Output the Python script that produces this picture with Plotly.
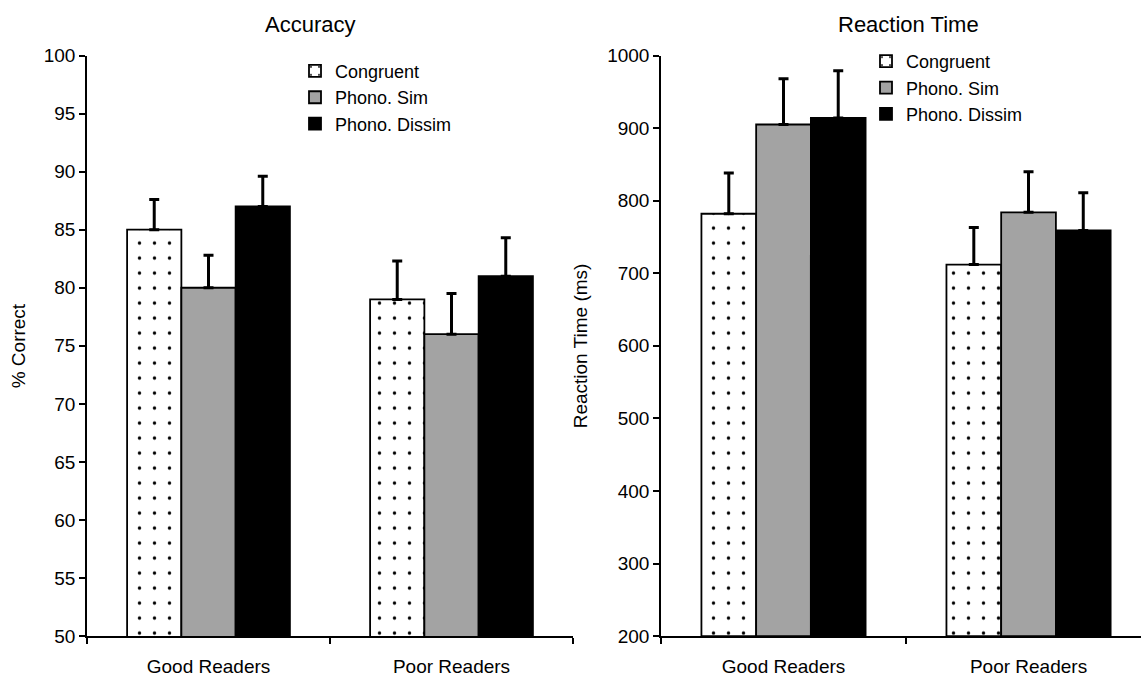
import plotly.graph_objects as go

groups = ["Good Readers", "Poor Readers"]
conditions = ["Congruent", "Phono. Sim", "Phono. Dissim"]

acc_means = {"Congruent": [85, 79], "Phono. Sim": [80, 76], "Phono. Dissim": [87, 81]}
acc_err = {"Congruent": [2.6, 3.3], "Phono. Sim": [2.8, 3.5], "Phono. Dissim": [2.6, 3.3]}

rt_means = {"Congruent": [782, 712], "Phono. Sim": [905, 784], "Phono. Dissim": [914, 759]}
rt_err = {"Congruent": [56, 51], "Phono. Sim": [63, 56], "Phono. Dissim": [65, 52]}

acc_ticks = [50, 55, 60, 65, 70, 75, 80, 85, 90, 95, 100]
rt_ticks = [200, 300, 400, 500, 600, 700, 800, 900, 1000]

W, H = 1141, 682
FONT = "Liberation Sans, Arial, sans-serif"

def marker_for(cond):
    line = dict(color="black", width=1.8)
    if cond == "Congruent":
        return dict(color="white", line=line,
                    pattern=dict(shape=".", fgcolor="black", bgcolor="white",
                                 size=15, solidity=0.04, fillmode="replace",
                                 fgopacity=1))
    if cond == "Phono. Sim":
        return dict(color="#a3a3a3", line=line)
    return dict(color="black", line=line)

fig = go.Figure()
for cond in conditions:
    fig.add_trace(go.Bar(
        x=groups, y=acc_means[cond], name=cond, marker=marker_for(cond),
        error_y=dict(type="data", array=acc_err[cond], arrayminus=[0, 0],
                     symmetric=False, color="black", thickness=3, width=5),
        xaxis="x", yaxis="y", legend="legend"))
for cond in conditions:
    fig.add_trace(go.Bar(
        x=groups, y=[v - 200 for v in rt_means[cond]], base=200, name=cond,
        marker=marker_for(cond),
        error_y=dict(type="data", array=rt_err[cond], arrayminus=[0, 0],
                     symmetric=False, color="black", thickness=3, width=5),
        xaxis="x2", yaxis="y2", legend="legend2"))

ydom = [1 - 646 / H, 1 - 47 / H]
axis_common = dict(showline=True, linecolor="black", linewidth=1.5,
                   ticks="outside", ticklen=6, tickcolor="black", tickwidth=1.5,
                   showgrid=False, zeroline=False,
                   tickfont=dict(family=FONT, size=19, color="black"))
xaxis_extra = dict(ticklabelstandoff=12)

fig.update_layout(
    width=W, height=H, margin=dict(l=0, r=0, t=0, b=0),
    paper_bgcolor="white", plot_bgcolor="white",
    barmode="group", bargap=0.33, bargroupgap=0,
    font=dict(family=FONT, size=19, color="black"),
    xaxis=dict(domain=[87 / W, 573 / W], range=[-0.5, 1.5], tickson="boundaries",
               anchor="y", **axis_common, **xaxis_extra),
    yaxis=dict(domain=ydom, range=[50, 100], tickvals=acc_ticks, anchor="x",
               **axis_common),
    xaxis2=dict(domain=[661 / W, 1.0], range=[-0.5, 1.459], tickson="boundaries",
                anchor="y2", **axis_common, **xaxis_extra),
    yaxis2=dict(domain=ydom, range=[200, 1000], tickvals=rt_ticks, anchor="x2",
                **axis_common),
    legend=dict(x=295 / W, y=1 - 44 / H, xanchor="left", yanchor="top",
                bgcolor="rgba(0,0,0,0)", font=dict(family=FONT, size=18),
                itemwidth=30, tracegroupgap=0),
    legend2=dict(x=866 / W, y=1 - 34 / H, xanchor="left", yanchor="top",
                 bgcolor="rgba(0,0,0,0)", font=dict(family=FONT, size=18),
                 itemwidth=30, tracegroupgap=0),
    annotations=[
        dict(text="Accuracy", x=310 / W, y=1 - 15 / H, xref="paper", yref="paper",
             showarrow=False, font=dict(family=FONT, size=22), xanchor="center", yanchor="middle"),
        dict(text="Reaction Time", x=908 / W, y=1 - 15 / H, xref="paper", yref="paper",
             showarrow=False, font=dict(family=FONT, size=22), xanchor="center", yanchor="middle"),
        dict(text="% Correct", x=18 / W, y=1 - 347 / H, xref="paper", yref="paper",
             showarrow=False, textangle=-90, font=dict(family=FONT, size=19),
             xanchor="center", yanchor="middle"),
        dict(text="Reaction Time (ms)", x=580 / W, y=1 - 347 / H, xref="paper", yref="paper",
             showarrow=False, textangle=-90, font=dict(family=FONT, size=19),
             xanchor="center", yanchor="middle"),
    ],
)

fig.write_html("out.html")
